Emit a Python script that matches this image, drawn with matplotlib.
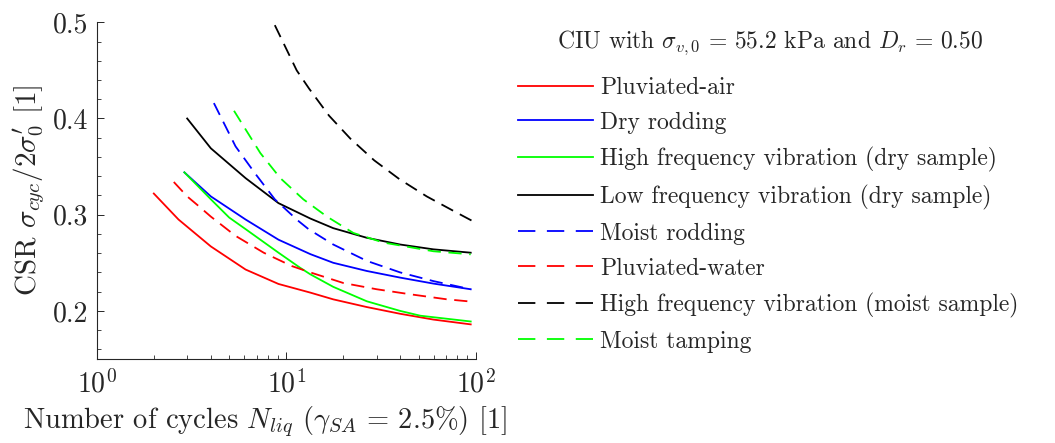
import matplotlib
matplotlib.use("Agg")
import matplotlib.pyplot as plt
from matplotlib.ticker import LogLocator, MultipleLocator, FormatStrFormatter, NullFormatter

plt.rcParams['font.family'] = ['cmr10']
plt.rcParams['mathtext.fontset'] = 'cm'
plt.rcParams['axes.formatter.use_mathtext'] = True
plt.rcParams['lines.scale_dashes'] = False

# Cyclic stress ratio vs. number of cycles to liquefaction, per preparation method
pluv_air_N = [2.0, 2.7, 4.0, 6.1, 9.1, 13.4, 17.7, 26.6, 39.9, 59.7, 94]
pluv_air_csr = [0.322, 0.295, 0.267, 0.243, 0.228, 0.219, 0.212, 0.204, 0.197, 0.191, 0.186]

dry_rod_N = [2.9, 4.0, 6.1, 9.1, 13.4, 17.7, 26.6, 39.9, 59.7, 94]
dry_rod_csr = [0.344, 0.319, 0.295, 0.274, 0.259, 0.250, 0.2415, 0.2346, 0.2284, 0.2225]

hf_dry_N = [2.9, 4.0, 5.0, 6.1, 9.1, 11.8, 13.4, 17.7, 26.6, 39.9, 51, 94]
hf_dry_csr = [0.344, 0.316, 0.297, 0.285, 0.2605, 0.245, 0.238, 0.225, 0.210, 0.200, 0.195, 0.189]

lf_dry_N = [3.0, 4.0, 6.1, 9.1, 13.4, 17.7, 26.6, 39.9, 59.7, 94]
lf_dry_csr = [0.400, 0.369, 0.338, 0.312, 0.296, 0.286, 0.276, 0.269, 0.264, 0.2605]

moist_rod_N = [4.15, 5.4, 6.9, 8.7, 11.5, 13.1, 17.7, 26.6, 39.9, 59.7, 94]
moist_rod_csr = [0.416, 0.371, 0.342, 0.316, 0.294, 0.285, 0.269, 0.252, 0.240, 0.231, 0.2225]

pluv_water_N = [2.55, 3.0, 3.4, 4.0, 5.4, 7.6, 10.7, 13.4, 20, 30, 45, 70, 94]
pluv_water_csr = [0.334, 0.319, 0.310, 0.298, 0.278, 0.2605, 0.2466, 0.240, 0.229, 0.2225, 0.2173,
                  0.2121, 0.2097]

hf_moist_N = [8.7, 11.35, 13.2, 16.8, 21.8, 29.1, 39.5, 55.1, 77.8, 100]
hf_moist_csr = [0.497, 0.450, 0.431, 0.403, 0.379, 0.3565, 0.337, 0.319, 0.303, 0.2916]

moist_tamp_N = [5.3, 7.3, 9.3, 12.3, 16.4, 22.6, 32.6, 59.7, 94]
moist_tamp_csr = [0.408, 0.364, 0.338, 0.316, 0.298, 0.281, 0.271, 0.262, 0.2588]

series = [
    ("Pluviated-air", pluv_air_N, pluv_air_csr, (1, 0, 0), '-'),
    ("Dry rodding", dry_rod_N, dry_rod_csr, (0, 0, 1), '-'),
    ("High frequency vibration (dry sample)", hf_dry_N, hf_dry_csr, (0, 1, 0), '-'),
    ("Low frequency vibration (dry sample)", lf_dry_N, lf_dry_csr, (0, 0, 0), '-'),
    ("Moist rodding", moist_rod_N, moist_rod_csr, (0, 0, 1), '--'),
    ("Pluviated-water", pluv_water_N, pluv_water_csr, (1, 0, 0), '--'),
    ("High frequency vibration (moist sample)", hf_moist_N, hf_moist_csr, (0, 0, 0), '--'),
    ("Moist tamping", moist_tamp_N, moist_tamp_csr, (0, 1, 0), '--'),
]

fig = plt.figure(figsize=(10.55, 4.43), dpi=100)
ax = fig.add_axes([0.0917, 0.1896, 0.3593, 0.7601])

for label, n, csr, color, ls in series:
    line, = ax.plot(n, csr, color=color, lw=1.3, label=label,
                    solid_joinstyle='round', dash_joinstyle='round')
    if ls == '--':
        line.set_dashes((9.5, 5.5))

ax.set_xscale('log')
ax.set_xlim(1, 100)
ax.set_ylim(0.15, 0.5)
ax.yaxis.set_major_locator(MultipleLocator(0.1))
ax.yaxis.set_minor_locator(MultipleLocator(0.02))
ax.yaxis.set_major_formatter(FormatStrFormatter('%.1f'))
ax.xaxis.set_major_locator(LogLocator(base=10, numticks=10))
ax.xaxis.set_minor_locator(LogLocator(base=10, subs=range(2, 10), numticks=10))
ax.xaxis.set_minor_formatter(NullFormatter())

for side in ('top', 'right'):
    ax.spines[side].set_visible(False)
for side in ('left', 'bottom'):
    ax.spines[side].set_color('#262626')
    ax.spines[side].set_linewidth(0.8)

ax.tick_params(which='both', direction='in', colors='#262626', labelcolor='#262626',
               labelsize=20)
ax.tick_params(which='major', length=5, width=0.7)
ax.tick_params(which='minor', length=3, width=0.6)
ax.tick_params(axis='x', pad=8)
ax.tick_params(axis='y', pad=6)

ax.set_xlabel(r"Number of cycles $N_{liq}$ $(\gamma_{SA}\,=\,2.5\%)$ [1]", fontsize=20.5,
              color='#262626')
ax.xaxis.set_label_coords(0.443, -0.135)
ax.set_ylabel(r"CSR $\sigma_{cyc}/2\sigma_0'$ [1]", fontsize=21, color='#262626',
              labelpad=4)

handles, labels = ax.get_legend_handles_labels()
leg = fig.legend(handles, labels, loc='upper left', bbox_to_anchor=(0.491, 0.827),
                 frameon=False, fontsize=17, handlelength=3.18, handletextpad=0.3,
                 labelspacing=0.545, borderaxespad=0, borderpad=0)
for t in leg.get_texts():
    t.set_color('#262626')
for handle, (_, _, _, _, ls) in zip(leg.get_lines(), series):
    if ls == '--':
        handle.set_dashes((12.5, 8.3))

fig.text(0.730, 0.903, r"CIU with $\sigma_{v,0}\,=\,55.2$ kPa and $D_r\,=\,0.50$",
         fontsize=17, color='#262626', ha='center', va='center')

fig.savefig("out.png", dpi=100)
